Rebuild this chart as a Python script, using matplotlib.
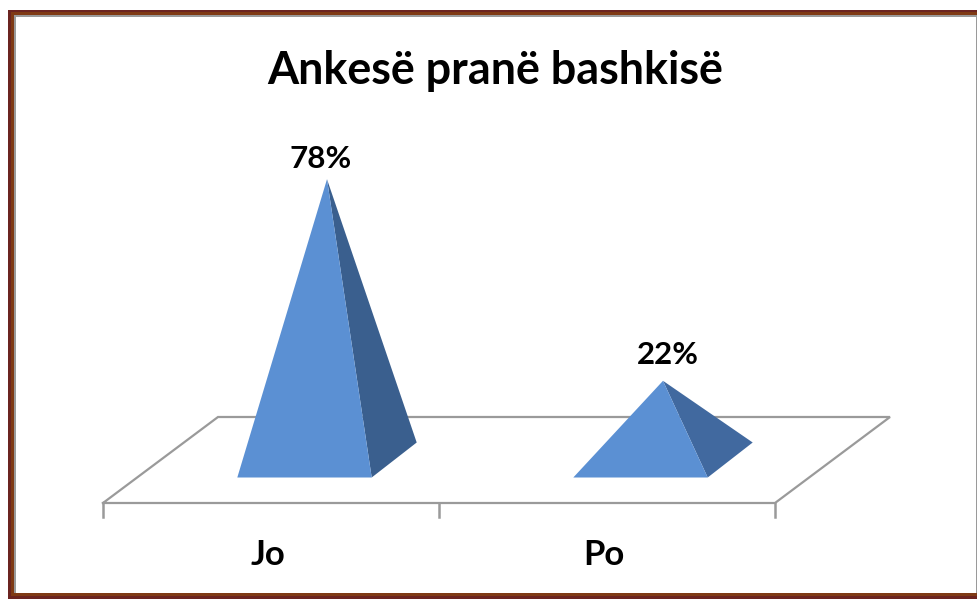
import matplotlib
matplotlib.use("Agg")
import matplotlib.pyplot as plt
from matplotlib.patches import Polygon, Rectangle

title = "Ankesë pranë bashkisë"
categories = ["Jo", "Po"]
values = [78, 22]
value_labels = ["78%", "22%"]

W, H = 978, 599
plt.rcParams['font.family'] = ['Lato', 'DejaVu Sans']
fig = plt.figure(figsize=(W / 100, H / 100), dpi=100, facecolor='white')

# Border layers in figure pixel space
bg = fig.add_axes([0, 0, 1, 1])
bg.set_xlim(0, W); bg.set_ylim(H, 0); bg.axis('off')
for (x0, y0, x1, y1, c) in [(8, 10, W + 5, 599, '#6B2420'),
                            (11, 12, W + 5, 596, '#7F3A14'),
                            (14, 15, W - 1, 593, '#9A9A9A'),
                            (16, 17, W - 2, 593, 'white')]:
    bg.add_patch(Rectangle((x0, y0), x1 - x0, y1 - y0, fc=c, ec='none'))

# Chart axes: x in category units, y in percent
UNIT = 336.0      # px per category
YS = 3.6          # px per percent
X0, Y0 = 271.0, 460.0
ax = fig.add_axes([0, 0, 1, 1])
ax.set_xlim(-X0 / UNIT, (W - X0) / UNIT)
ax.set_ylim(-(H - Y0) / YS, Y0 / YS)
ax.axis('off')
ax.patch.set_alpha(0)

half_w = 0.2
dep_x, dep_y = 45 / UNIT, 35 / YS      # pyramid depth vector
f_x, f_y = 115 / UNIT, 86 / YS         # floor depth vector
floor_y = -43 / YS                     # floor front edge relative to 0
shift = 33.5 / UNIT                    # pyramids sit inside the floor depth
grey = '#9A9A9A'

# Floor
xl, xr = -0.5, 1.5
ax.plot([xl, xl + f_x, xr + f_x, xr, xl], [floor_y, floor_y + f_y, floor_y + f_y, floor_y, floor_y],
        color=grey, lw=1.6, solid_joinstyle='miter', zorder=1)
# Ticks
tick_len = 14 / YS
for t in (xl, 0.5, xr):
    ax.plot([t, t], [floor_y, floor_y - tick_len], color=grey, lw=1.8, zorder=1)

side_colors = ['#3A5F8E', '#41699F']
label_dx = [-4.4, 3.3]
label_dy = [4.8, 8.5]
for i, (cat, v, lab) in enumerate(zip(categories, values, value_labels)):
    c = i + shift
    fl = (c - half_w, -dep_y / 2)
    fr = (c + half_w, -dep_y / 2)
    br = (c + half_w + dep_x, dep_y / 2)
    apex = (c + dep_x / 2, v)
    ax.add_patch(Polygon([fr, br, apex], fc=side_colors[i], ec='none', zorder=3))
    ax.add_patch(Polygon([fl, fr, apex], fc='#5B90D3', ec='none', zorder=4))
    ax.annotate(lab, apex, xytext=(label_dx[i], label_dy[i]), textcoords='offset points', ha='center', va='bottom',
                fontsize=22.5, fontweight='bold', color='black', zorder=5)
    ax.annotate(cat, (i, floor_y), xytext=(-2, -26), textcoords='offset points', ha='center', va='top',
                fontsize=25, fontweight='bold', color='black')

fig.text(495 / W, 1 - 71 / H, title, ha='center', va='center', fontsize=32.3, fontweight='bold', color='black')

fig.savefig('out.png', dpi=100)
